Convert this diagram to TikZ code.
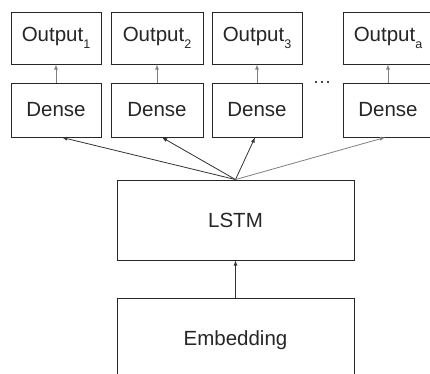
\documentclass[tikz,border=0pt]{standalone}
\usepackage{fontspec}
\setmainfont{Liberation Sans}
\usetikzlibrary{positioning,arrows}

\newcommand{\outsub}[1]{\raisebox{-.6ex}{\fontsize{12.5}{12}\selectfont #1}}

\begin{document}
\begin{tikzpicture}[x=1pt,y=-1pt,
    layer/.style={draw=black!85,line width=.9pt,minimum height=52pt,minimum width=90pt,inner sep=0pt,
                  font=\fontsize{20.5}{24}\selectfont,text=black!85},
    flow/.style={->,>=latex,line width=.8pt,draw=black!80},
    lite/.style={->,>=latex,line width=.8pt,draw=black!50}]
  \clip (0,0) rectangle (430,373);
  \fill[white] (0,0) rectangle (430,373);

  \node[layer] (o1) at (56,38) {Output\outsub{1}};
  \node[layer,minimum width=92pt] (o2) at (157,38) {Output\outsub{2}};
  \node[layer] (o3) at (257,38) {Output\outsub{3}};
  \node[layer] (o4) at (388,38) {Output\outsub{a}};

  \node[layer,minimum height=54pt] (d1) at (56,110) {Dense};
  \node[layer,minimum height=54pt,minimum width=92pt] (d2) at (157,110) {Dense};
  \node[layer,minimum height=54pt] (d3) at (257,110) {Dense};
  \node[layer,minimum height=54pt] (d4) at (388,110) {Dense};

  \node[font=\fontsize{19}{22}\selectfont,text=black!80] (dots) at (322,82) {\dots};

  \node[layer,minimum width=237pt,minimum height=80pt] (lstm) at (235.5,220) {LSTM};
  \node[layer,minimum width=237pt,minimum height=84pt] (emb) at (235.5,340) {Embedding};

  \draw[lite] (d1) -- (o1);
  \draw[lite] (d2) -- (o2);
  \draw[lite] (d3) -- (o3);
  \draw[lite] (d4) -- (o4);

  \draw[flow] (lstm.north) -- ([xshift=6pt]d1.south);
  \draw[flow] (lstm.north) -- ([xshift=5pt]d2.south);
  \draw[flow] (lstm.north) -- ([xshift=-2pt]d3.south);
  \draw[lite] (lstm.north) -- ([xshift=-3pt]d4.south);

  \draw[flow] (emb) -- (lstm);
\end{tikzpicture}
\end{document}
